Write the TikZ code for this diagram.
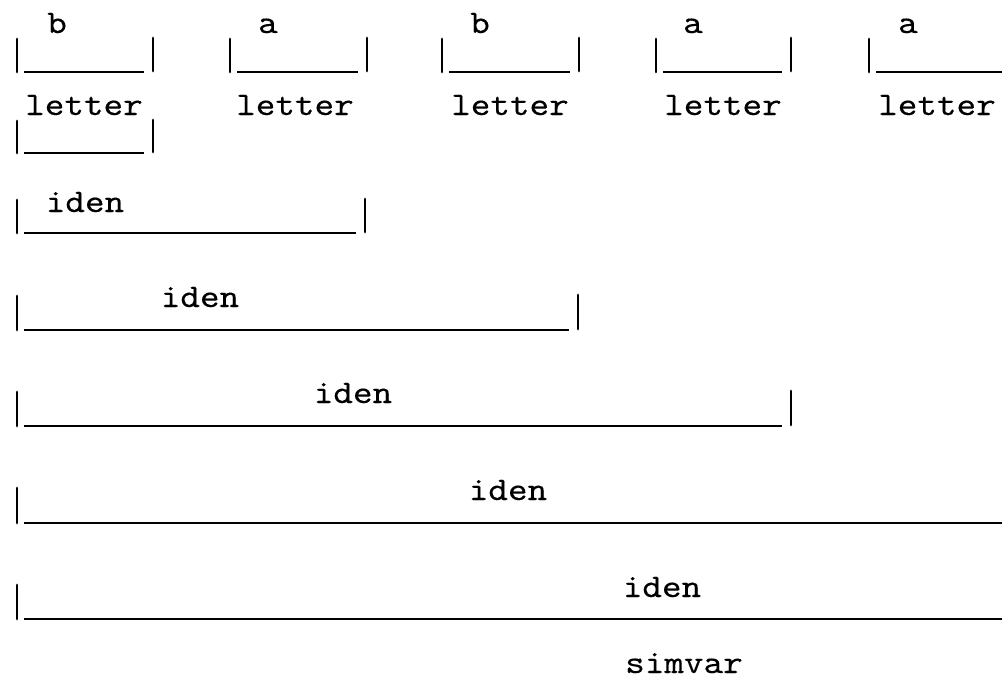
\documentclass[tikz,border=0pt]{standalone}
\usepackage{fontspec}
\newfontfamily\typewriter{lmmono10-regular}[Extension=.otf,FakeStretch=1.13,FakeBold=0.2]
\begin{document}
\begin{tikzpicture}[x=1pt,y=-1pt,
  lbl/.style={inner sep=0pt,anchor=base,font=\typewriter\fontsize{33}{35}\selectfont},
  rule/.style={line width=2.6pt,line cap=butt},
  bar/.style={line width=2.8pt,line cap=round}]
\useasboundingbox (0,0) rectangle (1002,681);

% a span: left bar at #1, right bar at #2 (none if empty), underline at height #3, bars #4 tall
\newcommand{\underspan}[4]{%
  \draw[bar] (#1,#3-#4) -- (#1,#3);
  \ifx\relax#2\relax
    \draw[rule] (#1+7,#3) -- (1002,#3);
  \else
    \draw[rule] (#1+7,#3) -- (#2-9,#3);
    \draw[bar] (#2,#3-#4-1) -- (#2,#3-1);
  \fi}

% terminal symbols
\node[lbl] (t1) at (57,33)  {b};
\node[lbl] (t2) at (268,33) {a};
\node[lbl] (t3) at (480,33) {b};
\node[lbl] (t4) at (693,33) {a};
\node[lbl] (t5) at (908,33) {a};

\underspan{17}{153}{72}{33}
\underspan{230}{367}{72}{33}
\underspan{442}{579}{72}{33}
\underspan{656}{791}{72}{33}
\underspan{869}{}{72}{33}

% letter reductions
\node[lbl] (l1) at (84,115)  {letter};
\node[lbl] (l2) at (295,115) {letter};
\node[lbl] (l3) at (510,115) {letter};
\node[lbl] (l4) at (723,115) {letter};
\node[lbl] (l5) at (937,115) {letter};

\underspan{17}{153}{153}{32}

% identifier reductions
\node[lbl] (i1) at (85,212) {iden};
\underspan{17}{365}{233}{33}

\node[lbl] (i2) at (200,307) {iden};
\underspan{17}{578}{330}{34}

\node[lbl] (i3) at (353,403) {iden};
\underspan{17}{791}{426}{34}

\node[lbl] (i4) at (508,500) {iden};
\underspan{17}{}{523}{35}

\node[lbl] (i5) at (662,597) {iden};
\underspan{17}{}{619}{34}

\node[lbl] (s) at (684,673) {simvar};
\end{tikzpicture}
\end{document}
